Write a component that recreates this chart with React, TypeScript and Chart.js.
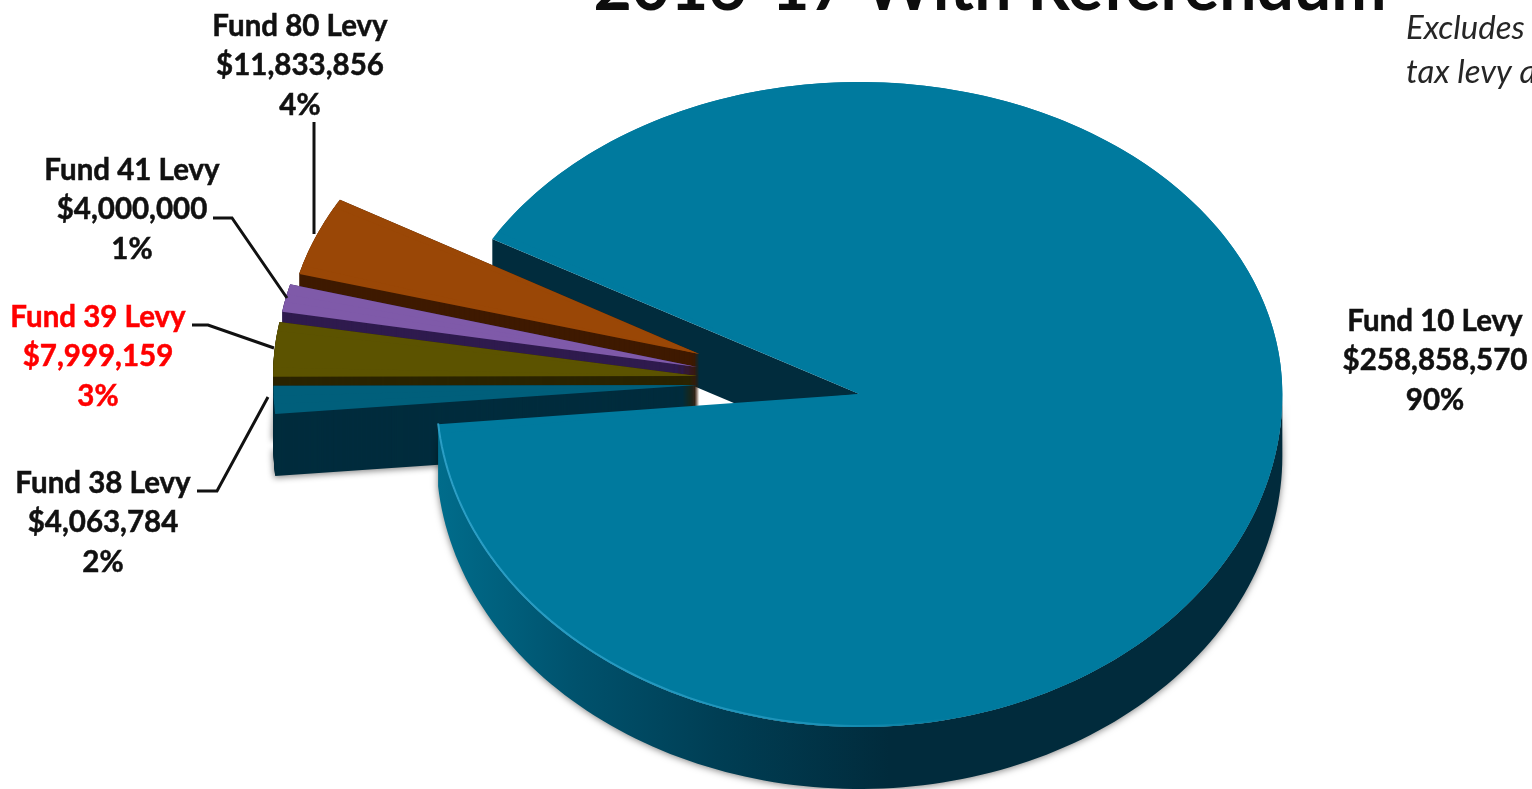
import React, { useEffect, useRef } from "react";
import { Chart, registerables } from "chart.js";

Chart.register(...registerables);

const W = 1532;
const H = 789;

// Levy amounts by fund
const fundNames = ["Fund 10 Levy", "Fund 38 Levy", "Fund 39 Levy", "Fund 41 Levy", "Fund 80 Levy"];
const levyAmounts = [258858570, 4063784, 7999159, 4000000, 11833856];
const sharePercents = [90, 2, 3, 1, 4];

// Slice styling
const topColors = ["#007a9e", "#005f7b", "#5c5300", "#7f5aa9", "#9a4706"];
const sideColors = ["#012c3d", "#012c3d", "#2b2400", "#2f1b4e", "#3f1a00"];
const sliceOffsets = [288, 368, 368, 376, 388];
const sliceStretch = [1, 0.995, 1.015, 0.985, 1];

// Where each value label sits: centre x, first baseline, and its leader line
const labelLayout = [
  { x: 1435, y: 331, color: "#111", leader: [] as number[][] },
  { x: 103, y: 493, color: "#111", leader: [[197, 491], [217, 491], [268, 397]] },
  { x: 98, y: 327, color: "#ff0000", leader: [[192, 325], [208, 325], [274, 348]] },
  { x: 132, y: 180, color: "#111", leader: [[213, 218], [232, 218], [287, 298]] },
  { x: 300, y: 36, color: "#111", leader: [[314, 122], [314, 234]] },
];

const DEPTH = 62;
const TILT = 0.75;
const MAIN_TILT = { ref: 0.765, top: 312 / 414, bottom: 333 / 414, sx: 423 / 414 };

type ArcPose = { ax: number; ay: number; lx: number; ly: number; r: number; start: number; end: number };

// Resolves where a slice's tip lands once its explode offset and the tilt are applied
function poseOf(arc: any, tilt: number): ArcPose {
  const half = (arc.startAngle + arc.endAngle) / 2;
  const off = (arc.options.offset || 0) / 4;
  const fix = 1 - Math.sin(Math.min(Math.PI, arc.circumference));
  return {
    ax: arc.x + Math.cos(half) * off,
    ay: Math.round(arc.y + Math.sin(half) * off * tilt),
    lx: arc.x + Math.cos(half) * off,
    ly: arc.y + Math.sin(half) * off,
    r: arc.outerRadius + off * fix,
    start: arc.startAngle,
    end: arc.endAngle,
  };
}

function edgePoints(p: ArcPose, sx: number, kTop: number, kBottom: number, n = 160) {
  const pts: number[][] = [];
  for (let i = 0; i <= n; i++) {
    const t = p.start + ((p.end - p.start) * i) / n;
    const s = Math.sin(t);
    pts.push([p.ax + sx * p.r * Math.cos(t), p.ay + p.r * s * (s < 0 ? kTop : kBottom)]);
  }
  return pts;
}

function drawTop(ctx: CanvasRenderingContext2D, arc: any, p: ArcPose, sx: number, ky: number) {
  ctx.save();
  ctx.translate(p.ax, p.ay);
  ctx.scale(sx, ky);
  ctx.translate(-p.lx, -p.ly);
  arc.draw(ctx);
  ctx.restore();
}

function tracePoly(ctx: CanvasRenderingContext2D, pts: number[][], dy = 0) {
  ctx.beginPath();
  pts.forEach(([x, y], i) => (i ? ctx.lineTo(x, y + dy) : ctx.moveTo(x, y + dy)));
  ctx.closePath();
}

// Paints the pie as an exploded, tilted disc with a visible thickness
const tiltedPie = {
  id: "tiltedPie",
  beforeDatasetsDraw(chart: any) {
    const ctx: CanvasRenderingContext2D = chart.ctx;
    const arcs = chart.getDatasetMeta(0).data;
    const main = arcs[0];
    const mp = poseOf(main, MAIN_TILT.ref);
    const rim = edgePoints(mp, MAIN_TILT.sx, MAIN_TILT.top, MAIN_TILT.bottom, 240);

    // Cut face of the large slice, visible through the gap
    const c = rim[0];
    ctx.fillStyle = sideColors[0];
    tracePoly(ctx, [[mp.ax, mp.ay], c, [c[0], c[1] + DEPTH], [mp.ax, mp.ay + DEPTH]]);
    ctx.fill();

    // Small slices, back to front
    for (let i = arcs.length - 1; i >= 1; i--) {
      const p = poseOf(arcs[i], TILT);
      const outline = [[p.ax, p.ay], ...edgePoints(p, sliceStretch[i], TILT, TILT, 30)];
      ctx.fillStyle = sideColors[i];
      ctx.save();
      ctx.shadowColor = "rgba(0,0,0,0.45)";
      ctx.shadowBlur = 6;
      ctx.shadowOffsetX = -1;
      ctx.shadowOffsetY = 2;
      tracePoly(ctx, outline, DEPTH);
      ctx.fill();
      ctx.restore();
      for (let d = DEPTH - 1; d >= 0; d--) {
        tracePoly(ctx, outline, d);
        ctx.fill();
      }
      ctx.fillStyle = arcs[i].options.backgroundColor;
      tracePoly(ctx, outline);
      ctx.fill();
      drawTop(ctx, arcs[i], p, sliceStretch[i], TILT);
    }

    // Outer wall of the large slice, lit from the left; only the front of the rim shows
    const front = rim.filter(([, y]) => y >= mp.ay);
    const wall = ctx.createLinearGradient(mp.ax - 420, 0, mp.ax + 30, 0);
    wall.addColorStop(0, "#006c8b");
    wall.addColorStop(0.3, "#00526d");
    wall.addColorStop(0.62, "#003e54");
    wall.addColorStop(1, "#012b3c");
    ctx.save();
    ctx.shadowColor = "rgba(0,0,0,0.5)";
    ctx.shadowBlur = 7;
    ctx.shadowOffsetX = 0;
    ctx.shadowOffsetY = 1;
    ctx.fillStyle = wall;
    tracePoly(ctx, [...front, ...front.slice().reverse().map(([x, y]) => [x, y + DEPTH])]);
    ctx.fill();
    ctx.restore();

    // Top face: upper and lower halves use slightly different foreshortening
    ctx.fillStyle = main.options.backgroundColor;
    tracePoly(ctx, [[mp.ax, mp.ay], ...rim]);
    ctx.fill();
    ctx.save();
    ctx.beginPath();
    ctx.rect(0, 0, W, mp.ay);
    ctx.clip();
    drawTop(ctx, main, mp, MAIN_TILT.sx, MAIN_TILT.top);
    ctx.restore();
    ctx.save();
    ctx.beginPath();
    ctx.rect(0, mp.ay, W, H - mp.ay);
    ctx.clip();
    drawTop(ctx, main, mp, MAIN_TILT.sx, MAIN_TILT.bottom);
    ctx.restore();

    // Bevel highlight along the front edge
    const glow = ctx.createLinearGradient(mp.ax - 420, 0, mp.ax + 90, 0);
    glow.addColorStop(0, "rgba(50,165,205,0.85)");
    glow.addColorStop(0.75, "rgba(50,165,205,0.55)");
    glow.addColorStop(1, "rgba(50,165,205,0)");
    ctx.strokeStyle = glow;
    ctx.lineWidth = 2;
    ctx.beginPath();
    rim
      .filter(([x, y]) => y > mp.ay + 30 && x < mp.ax + 95)
      .forEach(([x, y], i) => (i ? ctx.lineTo(x, y - 1) : ctx.moveTo(x, y - 1)));
    ctx.stroke();

    return false;
  },
  afterDraw(chart: any) {
    const ctx: CanvasRenderingContext2D = chart.ctx;
    ctx.save();
    ctx.textAlign = "center";
    ctx.textBaseline = "alphabetic";

    ctx.fillStyle = "#0d0d0d";
    ctx.font = '700 66px Lato, "Open Sans", sans-serif';
    ctx.fillText("2016-17 With Referendum", 990, 10);

    ctx.textAlign = "left";
    ctx.fillStyle = "#262626";
    ctx.font = 'italic 400 33px Lato, "Open Sans", sans-serif';
    ctx.fillText("Excludes", 1406, 39);
    ctx.fillText("tax levy a", 1406, 83);

    ctx.textAlign = "center";
    ctx.font = '700 29.5px Lato, "Open Sans", sans-serif';
    ctx.lineWidth = 0.5;
    fundNames.forEach((name, i) => {
      const l = labelLayout[i];
      ctx.fillStyle = l.color;
      ctx.strokeStyle = l.color;
      const lines = [name, "$" + levyAmounts[i].toLocaleString("en-US"), sharePercents[i] + "%"];
      lines.forEach((text, j) => {
        const y = l.y + [0, 39, 79][j];
        ctx.fillText(text, l.x, y);
        ctx.strokeText(text, l.x, y);
      });
      if (l.leader.length) {
        ctx.save();
        ctx.strokeStyle = "#111";
        ctx.lineWidth = 3;
        ctx.beginPath();
        l.leader.forEach(([x, y], j) => (j ? ctx.lineTo(x, y) : ctx.moveTo(x, y)));
        ctx.stroke();
        ctx.restore();
      }
    });
    ctx.restore();
  },
};

export default function App() {
  const ref = useRef<HTMLCanvasElement>(null);
  useEffect(() => {
    const chart = new Chart(ref.current as HTMLCanvasElement, {
      type: "pie",
      data: {
        labels: fundNames,
        datasets: [
          {
            data: levyAmounts,
            backgroundColor: topColors,
            borderWidth: 0,
            offset: sliceOffsets,
          },
        ],
      },
      options: {
        responsive: false,
        animation: false,
        devicePixelRatio: 1,
        rotation: 299.8,
        radius: 342,
        layout: { padding: { left: 46, bottom: 25 } },
        plugins: { legend: { display: false }, tooltip: { enabled: false }, title: { display: false } },
      } as any,
      plugins: [tiltedPie as any],
    });
    return () => chart.destroy();
  }, []);
  return (
    <div style={{ position: "fixed", left: 0, top: 0, width: W, height: H, overflow: "hidden", background: "#fff" }}>
      <canvas ref={ref} width={W} height={H} style={{ display: "block" }} />
    </div>
  );
}
